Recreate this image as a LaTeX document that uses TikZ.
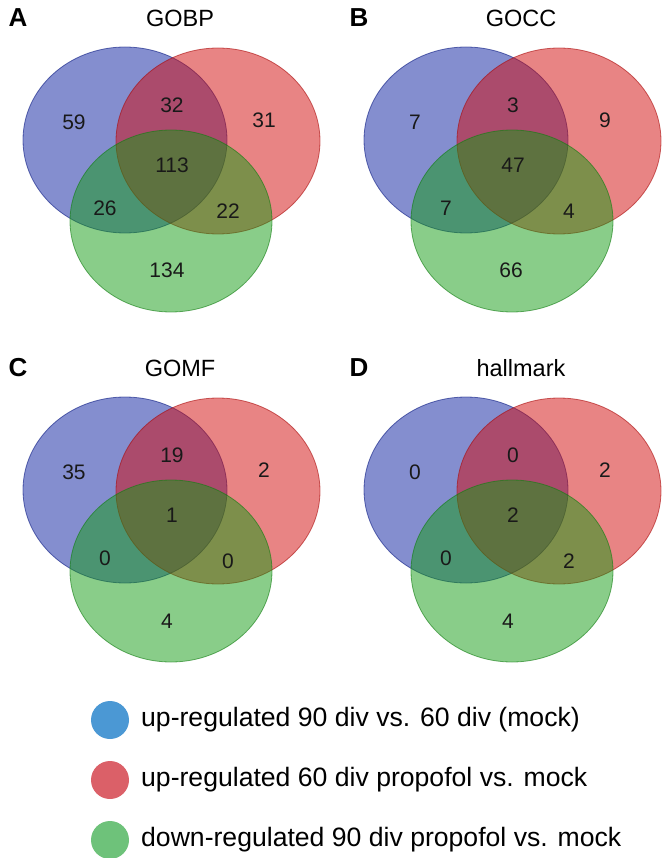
\documentclass[tikz,border=0pt]{standalone}
\usepackage{fontspec}
\setmainfont{Liberation Sans}
\definecolor{vblue}{RGB}{10,30,160}
\definecolor{vred}{RGB}{210,10,10}
\definecolor{vgreen}{RGB}{20,155,20}
\definecolor{lblue}{RGB}{75,152,212}
\definecolor{lred}{RGB}{219,96,104}
\definecolor{lgreen}{RGB}{110,194,122}
\tikzset{
  setb/.style={fill=vblue, draw=vblue!80!black, fill opacity=0.5, draw opacity=0.6, line width=0.8pt},
  setr/.style={fill=vred, draw=vred!80!black, fill opacity=0.5, draw opacity=0.6, line width=0.8pt},
  setg/.style={fill=vgreen, draw=vgreen!80!black, fill opacity=0.5, draw opacity=0.6, line width=0.8pt},
  num/.style={font=\fontsize{21}{25}\selectfont, inner sep=0pt, text=black!90},
  ttl/.style={font=\fontsize{23.5}{28}\selectfont, inner sep=0pt},
  plabel/.style={font=\fontsize{26}{30}\selectfont\bfseries, inner sep=0pt},
  legtext/.style={font=\fontsize{26.6}{32}\selectfont, inner sep=0pt, anchor=west},
}
\newcommand{\venn}[9]{%
  \draw[setb] (125,140) ellipse [x radius=102, y radius=93];
  \draw[setr] (218,141) ellipse [x radius=102, y radius=93];
  \draw[setg] (171,221) ellipse [x radius=101, y radius=91];
  \node[plabel] (#1L) at (18,18) {#2};
  \node[ttl] (#1T) at (180,18) {#3};
  \node[num] (#1a) at (74,122) {#4};
  \node[num] (#1b) at (172,105) {#5};
  \node[num] (#1c) at (264,120) {#6};
  \node[num] (#1d) at (172,165) {#7};
  \node[num] (#1e) at (105,208) {#8};
  \node[num] (#1f) at (228,211) {#9};
}
\begin{document}
\begin{tikzpicture}[x=1pt, y=-1pt]
\useasboundingbox (0,0) rectangle (666,858);
\begin{scope}
  \venn{A}{A}{GOBP}{59}{32}{31}{113}{26}{22}
  \node[num] (Ag) at (167,270) {134};
\end{scope}
\begin{scope}[shift={(341,0)}]
  \venn{B}{B}{GOCC}{7}{3}{9}{47}{7}{4}
  \node[num] (Bg) at (170,270) {66};
\end{scope}
\begin{scope}[shift={(0,350)}]
  \venn{C}{C}{GOMF}{35}{19}{2}{1}{0}{0}
  \node[num] (Cg) at (167,271) {4};
\end{scope}
\begin{scope}[shift={(341,350)}]
  \venn{D}{D}{hallmark}{0}{0}{2}{2}{0}{2}
  \node[num] (Dg) at (167,271) {4};
\end{scope}
\fill[lblue] (110,720) circle (19);
\fill[lred] (110,780) circle (19);
\fill[lgreen] (110,840) circle (19);
\node[legtext] (l1) at (141,720) {up-regulated 90 div vs. 60 div (mock)};
\node[legtext] (l2) at (141,780) {up-regulated 60 div propofol vs. mock};
\node[legtext] (l3) at (141,840) {down-regulated 90 div propofol vs. mock};
\end{tikzpicture}
\end{document}
